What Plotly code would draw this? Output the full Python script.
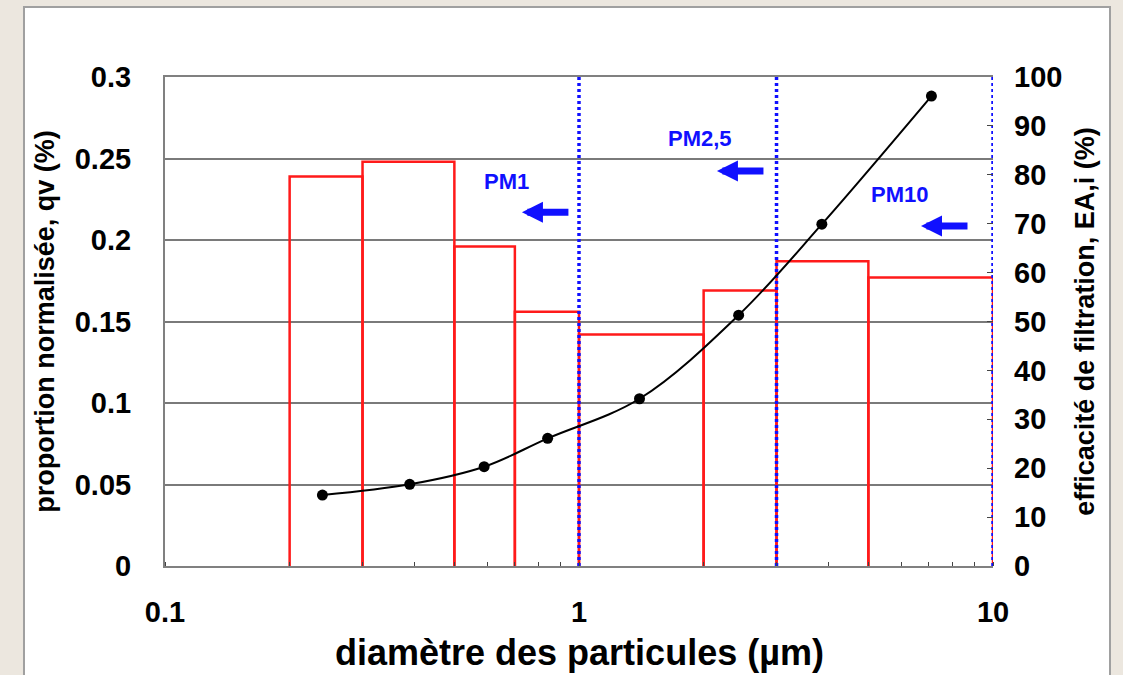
import numpy as np
import plotly.graph_objects as go

# ---- data ----
bin_edges = [0.2, 0.3, 0.5, 0.7, 1, 2, 3, 5, 10]
qv = [0.239, 0.248, 0.196, 0.156, 0.142, 0.169, 0.187, 0.177]
eff_d = [0.24, 0.39, 0.59, 0.84, 1.40, 2.43, 3.86, 7.1]
eff = [14.5, 16.7, 20.3, 26.1, 34.2, 51.3, 69.9, 96.1]
pm_limits = [1, 3, 10]
pm_names = ["PM1", "PM2,5", "PM10"]
pm_label_x = [0.67, 1.96, 5.96]
pm_label_y = [0.2356, 0.262, 0.228]
pm_arrow_x = [0.728, 2.154, 6.70]
pm_arrow_y = [0.217, 0.2423, 0.2086]
y_left_ticks = [0, 0.05, 0.1, 0.15, 0.2, 0.25, 0.3]
x_ticks = [0.1, 1, 10]

FONT = "Liberation Sans, Arial, sans-serif"
BLUE = "#1010ff"

fig = go.Figure()

# histogram outlines (each bin a rectangle)
hx, hy = [], []
for i, h in enumerate(qv):
    lo, hi = bin_edges[i], bin_edges[i + 1]
    hx += [lo, lo, hi, hi, None]
    hy += [0, h, h, 0, None]
fig.add_trace(go.Scatter(x=hx, y=hy, mode="lines", line=dict(color="#ff1a1a", width=2.5),
                         showlegend=False, hoverinfo="skip"))

# PM limits
for xv in pm_limits:
    fig.add_trace(go.Scatter(x=[xv, xv], y=[0, 0.3], mode="lines",
                             line=dict(color=BLUE, width=3.5, dash="3px,3px"),
                             showlegend=False, hoverinfo="skip"))

# efficiency curve
fig.add_trace(go.Scatter(x=eff_d, y=eff, yaxis="y2", mode="lines+markers",
                         line=dict(color="black", width=2, shape="spline", smoothing=1),
                         marker=dict(color="black", size=11), showlegend=False))

annotations = []
for name, lx, ly, axv, ayv in zip(pm_names, pm_label_x, pm_label_y, pm_arrow_x, pm_arrow_y):
    annotations.append(dict(x=np.log10(lx), y=ly, xref="x", yref="y", text=name, showarrow=False,
                            font=dict(family=FONT, size=22, color=BLUE, weight="bold")))
    annotations.append(dict(x=np.log10(axv), y=ayv, xref="x", yref="y", text="", showarrow=True,
                            ax=48, ay=0, arrowcolor=BLUE, arrowwidth=7, arrowhead=2, arrowsize=0.6))

annotations.append(dict(x=0.5, y=-0.1759, xref="paper", yref="paper", text="diamètre des particules (µm)",
                        showarrow=False, xanchor="center", yanchor="middle",
                        font=dict(family=FONT, size=36, color="black", weight="bold")))

fig.update_layout(
    width=1123, height=675,
    margin=dict(l=165, r=130, t=77, b=109),
    paper_bgcolor="#ece7df",
    plot_bgcolor="#c0c0c0",
    font=dict(family=FONT, color="black", weight="bold"),
    showlegend=False,
    xaxis=dict(type="log", range=[-1, 1], tickvals=x_ticks, ticktext=["0.1", "1", "10"],
               ticks="", showgrid=False, zeroline=False,
               showline=True, linecolor="#808080", linewidth=2, mirror=True,
               tickfont=dict(size=29), ticklabelstandoff=19,
               minor=dict(ticks="inside", ticklen=4, tickcolor="#444", tickwidth=1, showgrid=False, dtick="D1")),
    yaxis=dict(range=[0, 0.3], tickvals=y_left_ticks, ticks="", showgrid=True,
               gridcolor="#7a7a7a", gridwidth=2, zeroline=False,
               showline=True, linecolor="#808080", linewidth=2,
               tickfont=dict(size=29), ticklabelstandoff=26,
               title=dict(text="proportion normalisée, qv (%)", font=dict(size=27), standoff=12)),
    yaxis2=dict(range=[0, 100], dtick=10, overlaying="y", side="right", showgrid=False,
                zeroline=False, ticks="inside", ticklen=6, tickcolor="#444",
                tickfont=dict(size=29), ticklabelstandoff=20,
                title=dict(text="efficacité de filtration, EA,i (%)", font=dict(size=27), standoff=13)),
    annotations=annotations,
    shapes=[dict(type="rect", xref="paper", yref="paper", x0=-0.1703, x1=1.1413, y0=-0.25, y1=1.1432,
                 fillcolor="white", line=dict(color="#a0a0a0", width=2), layer="below")],
)

fig.write_html("out.html", config={"displayModeBar": False},
               post_script="document.body.style.margin='0';document.body.style.padding='0';")
